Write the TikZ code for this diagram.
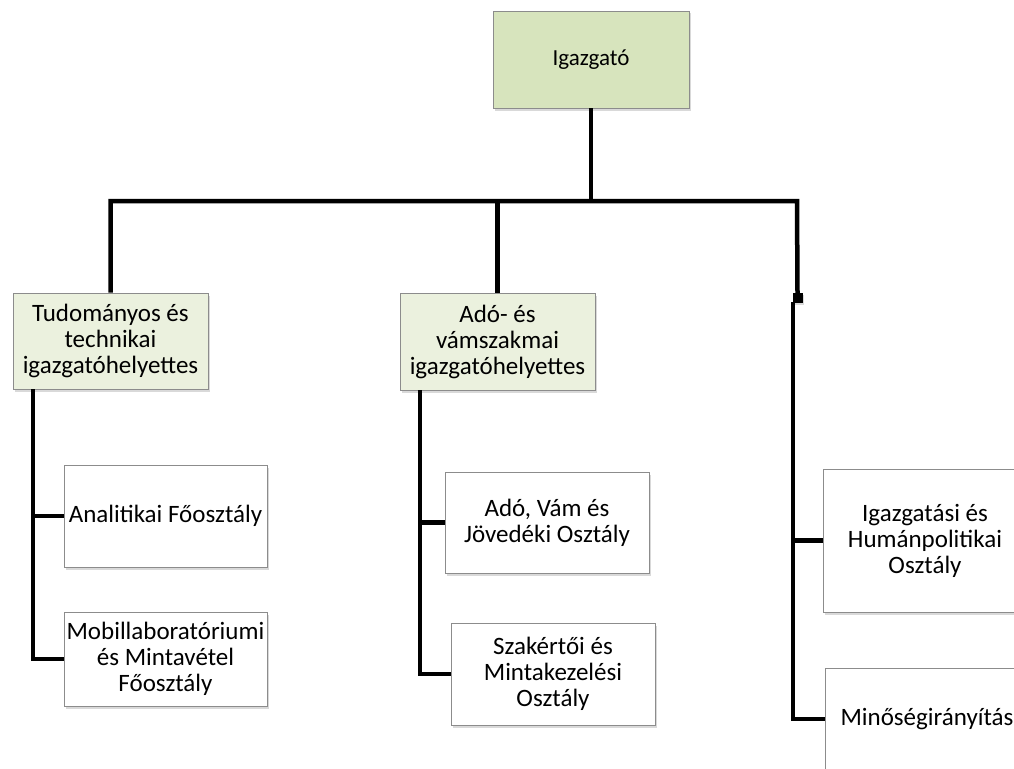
\documentclass[tikz,border=0pt]{standalone}
\usepackage{fontspec}
\setmainfont{Carlito}
\usetikzlibrary{shadows}
\definecolor{topfill}{HTML}{D7E4BD}
\definecolor{depfill}{HTML}{EBF1DE}
\definecolor{boxline}{HTML}{8C8C8C}
\begin{document}
\begin{tikzpicture}[x=1pt,y=-1pt,
 box/.style={draw=boxline, line width=0.8pt, fill=white, inner sep=0pt, align=center,
   font=\fontsize{25}{26}\selectfont,
   drop shadow={shadow xshift=1.5pt, shadow yshift=-2.5pt, opacity=0.3}},
 topbox/.style={box, fill=topfill, font=\fontsize{23}{25}\selectfont},
 depbox/.style={box, fill=depfill},
 conn/.style={line width=4.5pt, line join=miter, black},
]
\useasboundingbox (0,0) rectangle (1014,768);
\clip (0,0) rectangle (1014,768);

\node[topbox, minimum width=196pt, minimum height=97pt] (dir) at (591,59.5) {Igazgató};
\node[depbox, minimum width=195pt, minimum height=96pt] (dep1) at (110.5,341) {Tudományos és\\technikai\\igazgatóhelyettes};
\node[depbox, minimum width=195pt, minimum height=97pt] (dep2) at (497.5,341.5) {Adó- és\\vámszakmai\\igazgatóhelyettes};

\node[box, minimum width=203pt, minimum height=102pt] (ana) at (165.5,516) {Analitikai Főosztály};
\node[box, minimum width=203pt, minimum height=94pt] (mob) at (165.5,659) {Mobillaboratóriumi\\és Mintavétel\\Főosztály};
\node[box, minimum width=204pt, minimum height=101pt] (avj) at (547,522.5) {Adó, Vám és\\Jövedéki Osztály};
\node[box, minimum width=204pt, minimum height=102pt] (szak) at (553,674) {Szakértői és\\Mintakezelési\\Osztály};
\node[box, minimum width=204pt, minimum height=143pt] (igh) at (925,540.5) {Igazgatási és\\Humánpolitikai\\Osztály};
\node[box, minimum width=204pt, minimum height=102pt] (min) at (927,719) {Minőségirányítás};

\node[fill=black, minimum size=10pt, inner sep=0pt, drop shadow={shadow xshift=1pt, shadow yshift=-1.5pt, opacity=0.3}] (sq) at (797.5,298) {};

\coordinate (hl) at (111,201);
\coordinate (hr) at (797,201);
\coordinate (ls) at (33,389);
\coordinate (ms) at (420,390);
\coordinate (rs) at (793,302);

\draw[conn] (dir.south) -- (dir.south |- hl);
\draw[conn] (dep1.north) |- (hr) -- (sq.north);
\draw[conn] (dep2.north) -- (dep2.north |- hl);

\draw[conn] (ls) |- (mob.west);
\draw[conn] (ls |- ana.west) -- (ana.west);

\draw[conn] (ms) |- (szak.west);
\draw[conn] (ms |- avj.west) -- (avj.west);

\draw[conn] (rs) |- (min.west);
\draw[conn] (rs |- igh.west) -- (igh.west);
\end{tikzpicture}
\end{document}
